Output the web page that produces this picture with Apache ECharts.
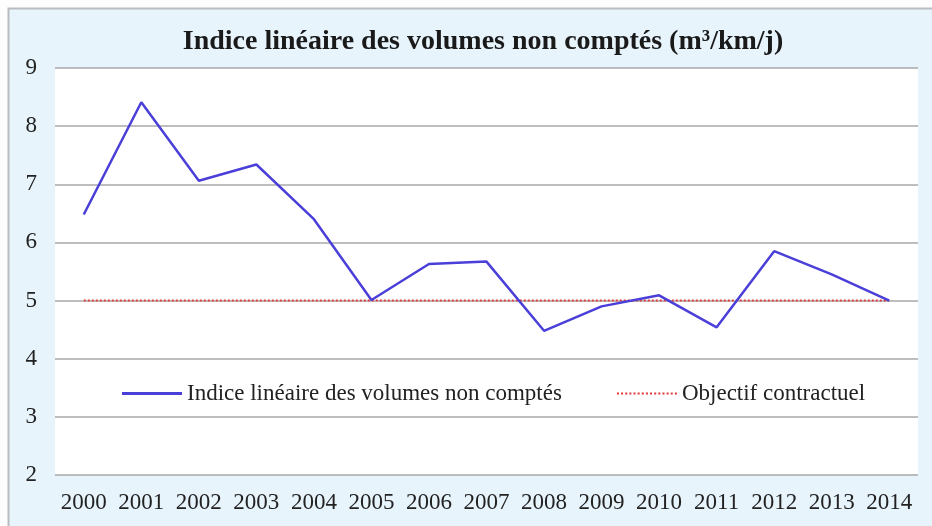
<!DOCTYPE html>
<html>
<head>
<meta charset="utf-8">
<script src="https://cdn.jsdelivr.net/npm/echarts@6/dist/echarts.min.js"></script>
<style>
html,body{margin:0;padding:0;background:#fdfdfd;}
#c{width:932px;height:526px;}
</style>
</head>
<body>
<div id="c"></div>
<script>
const years = ['2000','2001','2002','2003','2004','2005','2006','2007','2008','2009','2010','2011','2012','2013','2014'];
const indice = [6.48, 8.41, 7.06, 7.34, 6.4, 5.01, 5.63, 5.67, 4.48, 4.9, 5.09, 4.54, 5.85, 5.45, 5.0];
const objectif = [5, 5, 5, 5, 5, 5, 5, 5, 5, 5, 5, 5, 5, 5, 5];
const seriesNames = ['Indice linéaire des volumes non comptés', 'Objectif contractuel'];
const titleText = 'Indice linéaire des volumes non comptés (m³/km/j)';

let dots = '';
for (let i = 0; i < 15; i++) { dots += 'M' + (i * 4) + ',0h2v2h-2z'; }

const chart = echarts.init(document.getElementById('c'));
const serif = '"Liberation Serif", "DejaVu Serif", serif';
chart.setOption({
  backgroundColor: '#fdfdfd',
  animation: false,
  graphic: [{
    type: 'rect', z: -10, silent: true,
    shape: {x: 8.5, y: 8.5, width: 940, height: 540},
    style: {fill: '#e8f4fc', stroke: '#b8bcc0', lineWidth: 2}
  }],
  title: {
    text: titleText, left: 478, top: 23, textAlign: 'center',
    textStyle: {fontFamily: serif, fontWeight: 'bold', fontSize: 28, color: '#1a1a1a'}
  },
  grid: {left: 55, right: 14, top: 68, bottom: 51, show: true, backgroundColor: '#ffffff', borderWidth: 0},
  legend: {
    left: 117, top: 377, itemGap: 55, itemWidth: 60, itemHeight: 3,
    textStyle: {fontFamily: serif, fontSize: 23, color: '#222'},
    data: [
      {name: seriesNames[0], icon: 'rect', itemStyle: {color: '#4a3fd8'}},
      {name: seriesNames[1], icon: 'path://' + dots, itemStyle: {color: '#e03c3c'}}
    ]
  },
  xAxis: {
    type: 'category', data: years, boundaryGap: true,
    axisLine: {show: false}, axisTick: {show: false},
    axisLabel: {fontFamily: serif, fontSize: 23, color: '#222', margin: 16, interval: 0}
  },
  yAxis: {
    type: 'value', min: 2, max: 9, interval: 1,
    axisLine: {show: false}, axisTick: {show: false},
    axisLabel: {fontFamily: serif, fontSize: 23, color: '#222', margin: 18},
    splitLine: {lineStyle: {color: '#a8a8a8', width: 1.5}}
  },
  series: [
    {
      name: seriesNames[0], type: 'line', data: indice, symbol: 'none',
      lineStyle: {color: '#4a3fd8', width: 2.5}, itemStyle: {color: '#4a3fd8'}, z: 3
    },
    {
      name: seriesNames[1], type: 'line', data: objectif, symbol: 'none',
      lineStyle: {color: '#e03c3c', width: 2, type: [2, 2]}, itemStyle: {color: '#e03c3c'}, z: 2
    }
  ]
});
</script>
</body>
</html>
